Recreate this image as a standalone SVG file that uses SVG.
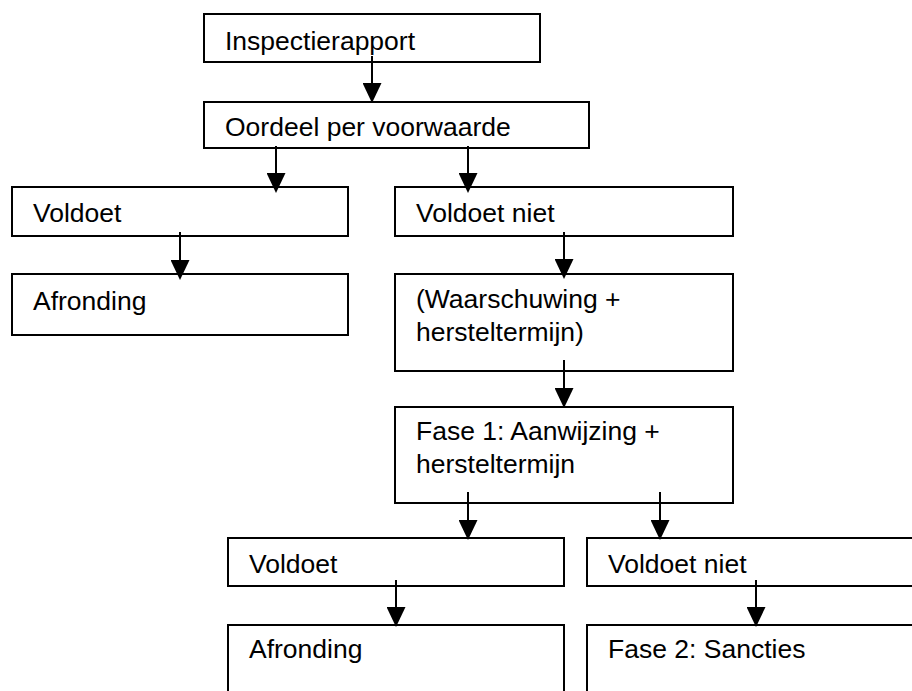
<svg xmlns="http://www.w3.org/2000/svg" width="912" height="691" viewBox="0 0 912 691">
<style>
.box{fill:#ffffff;stroke:#000000;stroke-width:2}
.lbl{font-family:"Liberation Sans",Arial,sans-serif;font-size:26.5px;fill:#000000}
.conn{stroke:#000000;stroke-width:2;fill:none}
</style>
<defs>
<marker id="arr" viewBox="0 0 20 19" refX="0" refY="9.5" markerWidth="20" markerHeight="19" markerUnits="userSpaceOnUse" orient="auto">
<path d="M0,0 L20,9.5 L0,19 z" fill="#000000"/>
</marker>
</defs>
<rect width="912" height="691" fill="#ffffff"/>
<g id="inspectierapport"><rect class="box" x="204" y="14" width="336" height="48"/><text class="lbl" x="225" y="50">Inspectierapport</text></g>
<g id="oordeel"><rect class="box" x="204" y="102" width="385" height="46"/><text class="lbl" x="225" y="136">Oordeel per voorwaarde</text></g>
<g id="voldoet1"><rect class="box" x="12" y="187" width="336" height="49"/><text class="lbl" x="33" y="222">Voldoet</text></g>
<g id="voldoetniet1"><rect class="box" x="395" y="187" width="338" height="49"/><text class="lbl" x="416" y="222">Voldoet niet</text></g>
<g id="afronding1"><rect class="box" x="12" y="274" width="336" height="61"/><text class="lbl" x="33" y="310">Afronding</text></g>
<g id="waarschuwing"><rect class="box" x="395" y="274" width="338" height="97"/><text class="lbl" x="416" y="308">(Waarschuwing +</text><text class="lbl" x="416" y="341">hersteltermijn)</text></g>
<g id="fase1"><rect class="box" x="395" y="407" width="338" height="96"/><text class="lbl" x="416" y="440">Fase 1: Aanwijzing +</text><text class="lbl" x="416" y="473">hersteltermijn</text></g>
<g id="voldoet2"><rect class="box" x="228" y="538" width="336" height="48"/><text class="lbl" x="249" y="573">Voldoet</text></g>
<g id="voldoetniet2"><rect class="box" x="587" y="538" width="340" height="48"/><text class="lbl" x="608" y="573">Voldoet niet</text></g>
<g id="afronding2"><rect class="box" x="228" y="625" width="336" height="100"/><text class="lbl" x="249" y="658">Afronding</text></g>
<g id="fase2"><rect class="box" x="587" y="625" width="340" height="100"/><text class="lbl" x="608" y="658">Fase 2: Sancties</text></g>
<g id="connectors">
<line class="conn" x1="372" y1="56" x2="372" y2="83" marker-end="url(#arr)"/>
<line class="conn" x1="276" y1="146" x2="276" y2="173" marker-end="url(#arr)"/>
<line class="conn" x1="468" y1="146" x2="468" y2="173" marker-end="url(#arr)"/>
<line class="conn" x1="180" y1="232" x2="180" y2="260" marker-end="url(#arr)"/>
<line class="conn" x1="564" y1="232" x2="564" y2="259" marker-end="url(#arr)"/>
<line class="conn" x1="564" y1="360" x2="564" y2="388" marker-end="url(#arr)"/>
<line class="conn" x1="468" y1="492" x2="468" y2="520" marker-end="url(#arr)"/>
<line class="conn" x1="660" y1="492" x2="660" y2="520" marker-end="url(#arr)"/>
<line class="conn" x1="396" y1="580" x2="396" y2="607" marker-end="url(#arr)"/>
<line class="conn" x1="756" y1="580" x2="756" y2="607" marker-end="url(#arr)"/>
</g>
</svg>
